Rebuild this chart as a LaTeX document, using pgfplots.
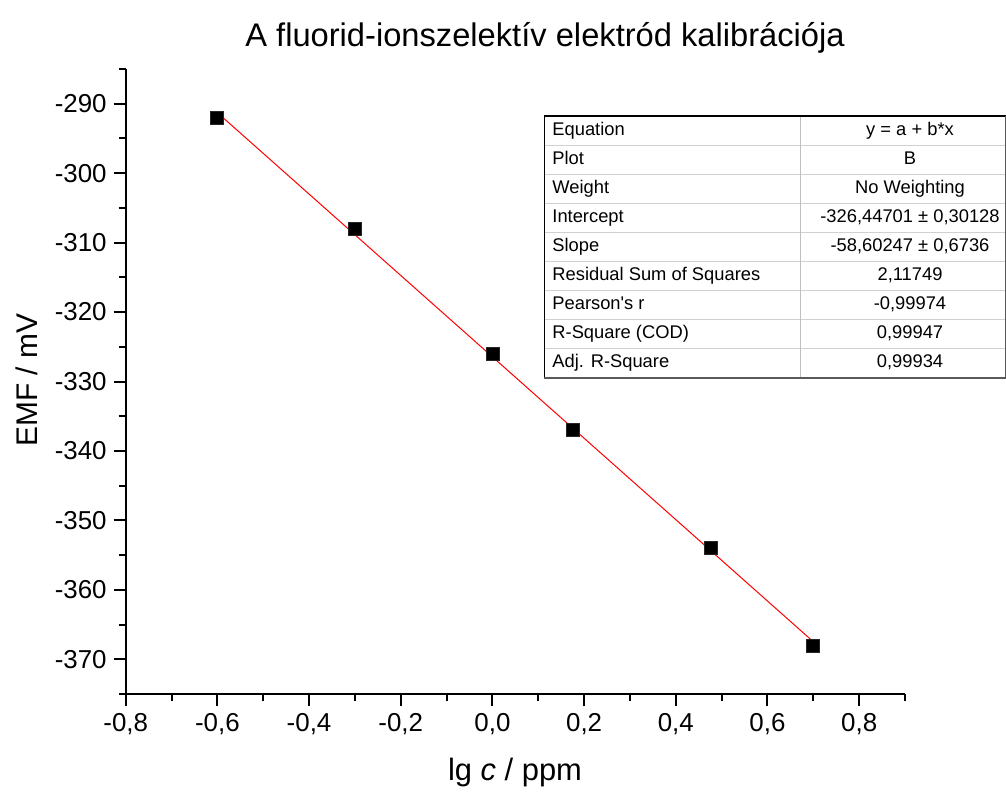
\documentclass[border=0pt]{standalone}
\usepackage{pgfplots}
\pgfplotsset{compat=1.18}
\usepackage{fontspec}
\setmainfont{Liberation Sans}
\begin{document}
\begin{tikzpicture}[x=1bp,y=1bp]
\useasboundingbox (0,0) rectangle (503,397);
\begin{axis}[
  at={(62.85bp,50bp)}, anchor=south west,
  scale only axis, width=389.65bp, height=312.5bp,
  xmin=-0.8, xmax=0.9, ymin=-375, ymax=-285,
  axis lines*=left,
  axis line style={line width=1bp, black},
  tick align=outside,
  major tick length=6bp, minor tick length=3.5bp,
  every tick/.style={line width=1bp, black},
  xtick={-0.8,-0.6,...,0.81},
  minor xtick={-0.7,-0.5,...,0.91},
  ytick={-370,-360,...,-289},
  minor ytick={-375,-365,...,-284},
  /pgf/number format/assume math mode=true,
  ticklabel style={font=\fontsize{13}{13}\selectfont},
  xticklabel style={/pgf/number format/.cd, use comma, fixed, fixed zerofill, precision=1},
  yticklabel style={/pgf/number format/.cd, fixed, precision=0, 1000 sep={}},
  clip=false,
]
\addplot[only marks, mark=square*, mark size=3.25bp, mark options={fill=black, draw=black!85, line width=0.3bp}]
  coordinates {(-0.60206,-292) (-0.30103,-308) (0,-326) (0.17609,-337) (0.47712,-354) (0.69897,-368)};
\addplot[red, line width=0.5bp, no marks]
  coordinates {(-0.60206,-291.1648) (0.69897,-367.4084)};
\end{axis}
% title and labels
\node[font=\fontsize{16.4}{16.4}\selectfont, anchor=base] at (272.5,374) {A fluorid-ionszelektív elektród kalibrációja};
\node[font=\fontsize{15.5}{15.5}\selectfont, anchor=base] at (257.5,7) {lg \textit{c} / ppm};
\node[font=\fontsize{15}{15}\selectfont, anchor=base, rotate=90] at (18.5,207) {EMF / mV};
% table
\fill[white] (272.15,208.15) rectangle (502.85,339);
\foreach \k in {1,...,8} {
  \draw[line width=0.5bp, black!18] (272.15,339-14.54*\k) -- (502.85,339-14.54*\k);
}
\draw[line width=0.5bp, black!25] (400.25,339) -- (400.25,208.15);
\draw[line width=0.6bp, black] (272.15,208.15) -- (272.15,339) -- (502.85,339);
\draw[line width=0.8bp, black!65] (272.15,208.15) -- (502.85,208.15) -- (502.85,339);
\foreach \i/\a/\b in {1/{Equation}/{y = a + b*x},
                      2/{Plot}/{B},
                      3/{Weight}/{No Weighting},
                      4/{Intercept}/{-326,44701 ± 0,30128},
                      5/{Slope}/{-58,60247 ± 0,6736},
                      6/{Residual Sum of Squares}/{2,11749},
                      7/{Pearson\textquotesingle s r}/{-0,99974},
                      8/{R-Square (COD)}/{0,99947},
                      9/{Adj. R-Square}/{0,99934}} {
  \node[font=\fontsize{9.2}{9.2}\selectfont, anchor=west, inner sep=0pt] at (276,339-14.54*\i+7.27) {\vphantom{Ag}\a};
  \node[font=\fontsize{9.2}{9.2}\selectfont, anchor=center, inner sep=0pt] at (455,339-14.54*\i+7.27) {\vphantom{Ag}\b};
}
\end{tikzpicture}
\end{document}
